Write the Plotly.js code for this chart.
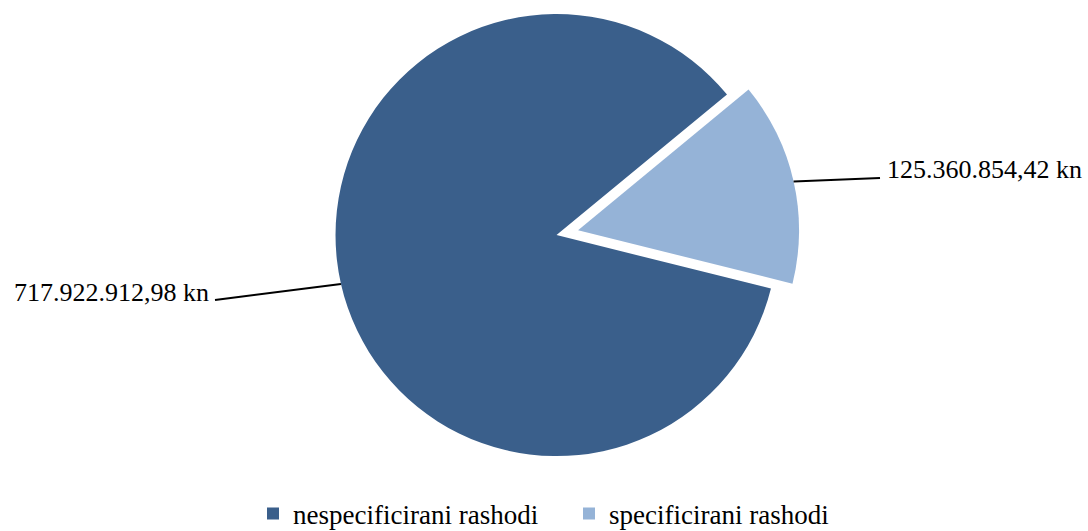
<!DOCTYPE html>
<html>
<head>
<meta charset="utf-8">
<script src="https://cdn.plot.ly/plotly-3.0.1.min.js"></script>
<style>
  html, body { margin: 0; padding: 0; overflow: hidden; background: #fff; }
  #chart { position: absolute; left: 0; top: -8px; width: 1088px; height: 560px; }
</style>
</head>
<body>
<div id="chart"></div>
<script>
// Chart data
const labels = ["nespecificirani rashodi", "specificirani rashodi"];
const values = [717922912.98, 125360854.42];
const pulls = [0, 0.1];
const colors = ["#3A5F8B", "#95B3D7"];

// Croatian number format: 717.922.912,98 kn
function formatKn(v) {
  const parts = v.toFixed(2).split(".");
  const intPart = parts[0].replace(/\B(?=(\d{3})+(?!\d))/g, ".");
  return intPart + "," + parts[1] + " kn";
}

const W = 1088, H = 560;
const domX = [0.2115, 0.8115];
const domY = [1 - 486.2 / H, 1];
const rotation = 104;
const serif = "Liberation Serif, Times New Roman, serif";

// pie geometry (same rules plotly uses) so leader lines start on the slice edge
const maxPull = Math.max(...pulls);
const r = Math.min(W * (domX[1] - domX[0]), H * (domY[1] - domY[0])) / (2 * (1 + maxPull));
const cx = W * (domX[0] + domX[1]) / 2;
const cy = H * (1 - domY[0]) - H * (domY[1] - domY[0]) / 2;
const total = values.reduce((a, b) => a + b, 0);

// outer ends of leader lines and label anchors (layout pixels)
const labelEnds = [
  { x: 215, y: 308, tx: 211, ty: 300, anchor: "right" },
  { x: 880, y: 186, tx: 885, ty: 177, anchor: "left" }
];

const shapes = [];
const annotations = [];
let angle = rotation;
values.forEach((v, i) => {
  const span = v / total * 360;
  const mid = (angle + span / 2) * Math.PI / 180;
  const px = cx + (1 + pulls[i]) * r * Math.sin(mid);
  const py = cy - (1 + pulls[i]) * r * Math.cos(mid);
  const e = labelEnds[i];
  shapes.push({
    type: "line", xref: "paper", yref: "paper",
    x0: px / W, y0: 1 - py / H, x1: e.x / W, y1: 1 - e.y / H,
    line: { color: "#000", width: 2 }
  });
  annotations.push({
    xref: "paper", yref: "paper", x: e.tx / W, y: 1 - e.ty / H,
    xanchor: e.anchor, yanchor: "middle", showarrow: false,
    text: formatKn(v), font: { family: serif, size: 26, color: "#000" }
  });
  angle += span;
});

const trace = {
  type: "pie",
  labels: labels,
  values: values,
  pull: pulls,
  sort: false,
  direction: "clockwise",
  rotation: rotation,
  textinfo: "none",
  hoverinfo: "label+value",
  marker: { colors: colors, line: { width: 0 } },
  domain: { x: domX, y: domY }
};

const layout = {
  width: W,
  height: H,
  margin: { l: 0, r: 0, t: 0, b: 0 },
  paper_bgcolor: "#fff",
  showlegend: true,
  legend: {
    orientation: "h",
    entrywidth: 271,
    x: 253 / W, xanchor: "left",
    y: 1 - 522 / H, yanchor: "middle",
    font: { family: serif, size: 27, color: "#000" }
  },
  shapes: shapes,
  annotations: annotations
};

Plotly.newPlot("chart", [trace], layout, { displayModeBar: false });
</script>
</body>
</html>
